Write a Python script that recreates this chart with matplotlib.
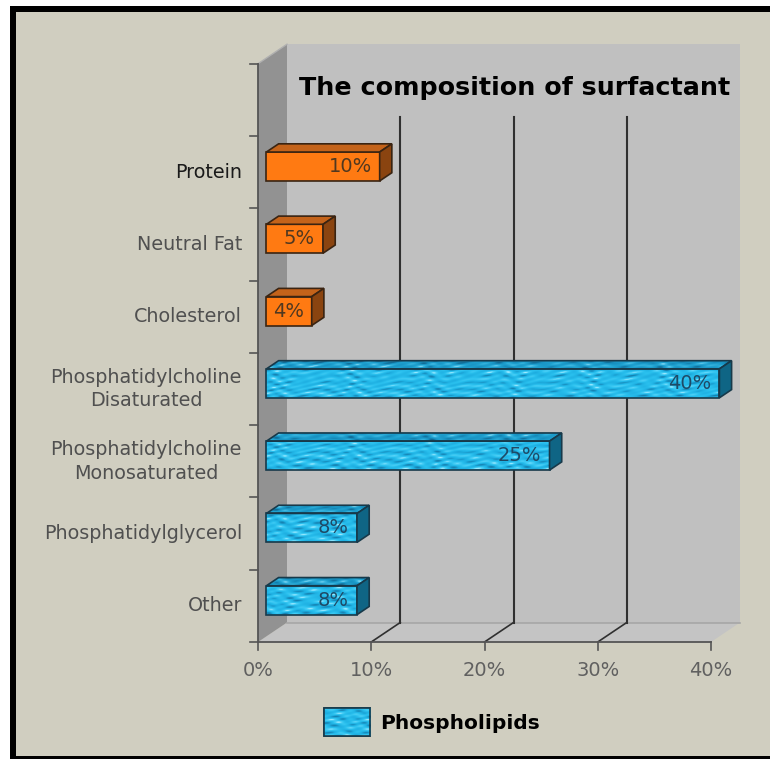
import matplotlib
matplotlib.use('Agg')
import matplotlib.pyplot as plt
import numpy as np
from matplotlib.patches import Polygon, Rectangle, Patch
from matplotlib.colors import LinearSegmentedColormap

# data, bottom to top
categories = ['Other', 'Phosphatidylglycerol', 'Phosphatidylcholine\nMonosaturated',
              'Phosphatidylcholine\nDisaturated', 'Cholesterol', 'Neutral Fat', 'Protein']
values = [8, 8, 25, 40, 4, 5, 10]
is_phospholipid = [True, True, True, True, False, False, False]
xticks = [0, 10, 20, 30, 40]
title = 'The composition of surfactant'
legend_label = 'Phospholipids'

W, H = 770, 759
fig = plt.figure(figsize=(W / 100, H / 100), dpi=100)
fig.patch.set_facecolor('white')

# background + black frame (pixel coords, origin bottom left)
def px_rect(x0, y0, x1, y1, color, z):
    fig.add_artist(Rectangle((x0 / W, y0 / H), (x1 - x0) / W, (y1 - y0) / H,
                             transform=fig.transFigure, facecolor=color,
                             edgecolor='none', zorder=z))

px_rect(10, 0, W, H - 6, '#d0cec0', -10)
px_rect(10, 0, 15.5, H - 6, 'black', 10)
px_rect(10, H - 12, W, H - 6, 'black', 10)
px_rect(10, 0, W, 3.5, 'black', 10)

# one axes over the whole figure, front plane: x=0 at px 258, x=40 at px 711,
# slot 0 at py 642 (from top), slot 8 at py 63.7
ax = fig.add_axes([0, 0, 1, 1])
ax.set_facecolor('none')
ax.axis('off')
sx = 40 / (711 - 258)
sy = 8 / (642 - 63.7)
xlim = (-258 * sx, 40 + (W - 711) * sx)
ylim = (-(H - 642) * sy, 642 * sy)

nslots = 8
xmax = 40
ddx = 29 * sx      # full depth shift
ddy = 19.5 * sy

# water-like texture for the phospholipid bars (fine, mostly horizontal streaks)
gx, gy = np.meshgrid(np.arange(W, dtype=float), np.arange(H, dtype=float))
tex = (np.sin(0.9 * gy + 1.3 * np.sin(0.17 * gx + 0.3 * gy))
       + 0.8 * np.sin(0.7 * gy - 0.25 * gx + 2.0 * np.sin(0.08 * gx))
       + 0.6 * np.sin(1.3 * gy + 0.35 * gx + 1.1 * np.sin(0.21 * gy)))
tex = (tex - tex.min()) / (tex.max() - tex.min())
cmap_front = LinearSegmentedColormap.from_list(
    'wf', [(0, '#1582b2'), (0.3, '#1fb0e2'), (0.6, '#2ac0ee'), (0.85, '#4ccff6'), (1, '#9eeaff')])
cmap_top = LinearSegmentedColormap.from_list(
    'wt', [(0, '#106a94'), (0.3, '#1892c2'), (0.6, '#20a2d0'), (0.85, '#3cb6e0'), (1, '#80d6f2')])
extent = (xlim[0], xlim[1], ylim[0], ylim[1])

def textured(patch, cmap, z):
    ax.add_patch(patch)
    im = ax.imshow(tex, cmap=cmap, extent=extent, origin='upper', aspect='auto',
                   interpolation='bilinear', zorder=z)
    im.set_clip_path(patch)

# walls and floor
ax.add_patch(Polygon([(0, 0), (xmax, 0), (xmax + ddx, ddy), (ddx, ddy)],
                     closed=True, facecolor='#c4c4c4', edgecolor='none', zorder=1))
ax.add_patch(Rectangle((ddx, ddy), xmax, nslots, facecolor='#c0c0c0',
                       edgecolor='none', zorder=1))
ax.add_patch(Polygon([(0, 0), (0, nslots), (ddx, nslots + ddy), (ddx, ddy)],
                     closed=True, facecolor='#929292', edgecolor='none', zorder=2))
ax.plot([ddx, xmax + ddx], [ddy, ddy], color='#a6a6a6', lw=1.2, zorder=2)
ax.plot([0, ddx], [nslots, nslots + ddy], color='#b0b0b0', lw=1, zorder=2)

# gridlines
grid_top = (642 - 117) * sy
for v in xticks[1:-1]:
    ax.plot([v + ddx, v + ddx], [ddy, grid_top], color='#303030', lw=1.5, zorder=3)
    ax.plot([v, v + ddx], [0, ddy], color='#303030', lw=1.2, zorder=3)

# axes lines and ticks
ax.plot([0, 0], [0, nslots], color='#555555', lw=1.3, zorder=4)
ax.plot([0, xmax], [0, 0], color='#555555', lw=1.3, zorder=4)
for i in range(nslots + 1):
    ax.plot([-8 * sx, 0], [i, i], color='#555555', lw=1.2, zorder=4)
for v in xticks:
    ax.plot([v, v], [0, -8 * sy], color='#555555', lw=1.2, zorder=4)
    ax.text(v, -29 * sy, f'{v}%', ha='center', va='center', fontsize=14,
            color='#606060')

# category labels
for i, cat in enumerate(categories):
    col = '#1a1a1a' if cat == 'Protein' else '#505050'
    ax.text(-16 * sx, i + 0.5, cat, ha='right', va='center', multialignment='center',
            fontsize=13.8, color=col, linespacing=1.3)

# 3d bars
z0, bd = 0.29, 0.42
for i, (v, ph) in enumerate(zip(values, is_phospholipid)):
    x0 = z0 * ddx
    y0 = i + 0.3 + z0 * ddy
    y1 = i + 0.7 + z0 * ddy
    bx, by = bd * ddx, bd * ddy
    front_xy = [(x0, y0), (x0 + v, y0), (x0 + v, y1), (x0, y1)]
    top_xy = [(x0, y1), (x0 + v, y1), (x0 + v + bx, y1 + by), (x0 + bx, y1 + by)]
    side_xy = [(x0 + v, y0), (x0 + v, y1), (x0 + v + bx, y1 + by), (x0 + v + bx, y0 + by)]
    if ph:
        edge, tc = '#17394a', '#1e4a66'
        textured(Polygon(front_xy, closed=True, facecolor='none', edgecolor='none', zorder=6),
                 cmap_front, 6)
        textured(Polygon(top_xy, closed=True, facecolor='none', edgecolor='none', zorder=6),
                 cmap_top, 6)
        side = '#0f6585'
        front = top = 'none'
    else:
        edge, tc = '#3a2412', '#503820'
        front, top, side = '#ff7a12', '#c4631a', '#8a4410'
    ax.add_patch(Polygon(front_xy, closed=True, facecolor=front, edgecolor=edge, lw=1.2, zorder=6.5))
    ax.add_patch(Polygon(top_xy, closed=True, facecolor=top, edgecolor=edge, lw=1.2, zorder=6.5))
    ax.add_patch(Polygon(side_xy, closed=True, facecolor=side, edgecolor=edge, lw=1.2, zorder=6.5))
    ax.text(x0 + v - 8 * sx, (y0 + y1) / 2, f'{v}%', ha='right', va='center',
            fontsize=14, color=tc, zorder=7)

# title on the back wall
ax.text(257 * sx, (642 - 88) * sy, title, ha='center', va='center',
        fontsize=18.3, fontweight='bold', color='black', zorder=5)

ax.set_xlim(*xlim)
ax.set_ylim(*ylim)

# legend
handle = Patch(facecolor='#2ac0ee', edgecolor='#17394a', lw=1.2)
leg = ax.legend(handles=[handle], labels=[legend_label], loc='center left',
                bbox_to_anchor=(324 / W, (H - 722) / H), bbox_transform=fig.transFigure,
                frameon=False, prop={'weight': 'bold', 'size': 14.5}, handlelength=2.3,
                handleheight=1.75, handletextpad=0.5, borderpad=0, borderaxespad=0)
leg.set_zorder(8)

# texture on the legend key
fig.canvas.draw()
bb = leg.get_patches()[0].get_window_extent().transformed(ax.transData.inverted())
key = Rectangle((bb.x0, bb.y0), bb.width, bb.height, facecolor='none',
                edgecolor='none', zorder=9)
textured(key, cmap_front, 9)
ax.add_patch(Rectangle((bb.x0, bb.y0), bb.width, bb.height, facecolor='none',
                       edgecolor='#17394a', lw=1.2, zorder=9.5))
ax.set_xlim(*xlim)
ax.set_ylim(*ylim)

fig.savefig('out.png', dpi=100, facecolor='white')
